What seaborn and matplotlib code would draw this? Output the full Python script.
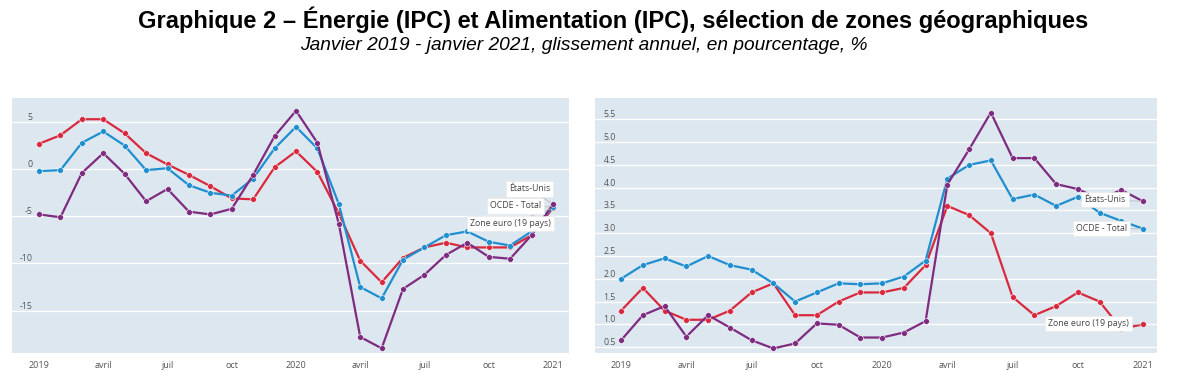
import pandas as pd
import matplotlib.pyplot as plt
import seaborn as sns

# mois 0 = janvier 2019 ... 24 = janvier 2021
months = list(range(25))
tick_pos = [0, 3, 6, 9, 12, 15, 18, 21, 24]
tick_labels = ["2019", "avril", "juil", "oct", "2020", "avril", "juil", "oct", "2021"]

series_names = ["Zone euro (19 pays)", "OCDE - Total", "États-Unis"]

# Energie (IPC)
energie_euro = [2.7, 3.6, 5.3, 5.3, 3.8, 1.7, 0.5, -0.6, -1.8, -3.1, -3.2, 0.2, 1.9,
                -0.3, -4.7, -9.7, -12.0, -9.4, -8.3, -7.8, -8.3, -8.3, -8.3, -7.0, -4.1]
energie_ocde = [-0.2, -0.1, 2.8, 4.0, 2.5, -0.1, 0.1, -1.7, -2.5, -2.8, -1.0, 2.2, 4.5,
                2.2, -3.7, -12.5, -13.7, -9.6, -8.3, -7.0, -6.6, -7.7, -8.1, -6.6, -4.0]
energie_us = [-4.8, -5.1, -0.4, 1.7, -0.5, -3.4, -2.1, -4.5, -4.8, -4.2, -0.6, 3.5, 6.2,
              2.8, -5.8, -17.8, -19.0, -12.7, -11.2, -9.1, -7.8, -9.3, -9.5, -7.0, -3.7]

# Alimentation (IPC)
alim_euro = [1.3, 1.8, 1.3, 1.1, 1.1, 1.3, 1.7, 1.9, 1.2, 1.2, 1.5, 1.7, 1.7,
             1.8, 2.3, 3.6, 3.4, 3.0, 1.6, 1.2, 1.4, 1.7, 1.5, 0.9, 1.0]
alim_ocde = [2.0, 2.3, 2.45, 2.27, 2.5, 2.3, 2.2, 1.9, 1.5, 1.7, 1.9, 1.88, 1.9,
             2.05, 2.4, 4.2, 4.5, 4.6, 3.75, 3.85, 3.6, 3.8, 3.45, 3.27, 3.1]
alim_us = [0.65, 1.2, 1.4, 0.73, 1.2, 0.93, 0.65, 0.47, 0.58, 1.02, 0.99, 0.71, 0.71,
           0.82, 1.07, 4.07, 4.84, 5.65, 4.65, 4.65, 4.08, 3.97, 3.75, 3.95, 3.7]

colors = {"Zone euro (19 pays)": "#d9293e", "OCDE - Total": "#1f8fcf", "États-Unis": "#7e2b80"}
bg = "#dde7ef"


def long_table(euro, ocde, us):
    rows = []
    for name, vals in zip(series_names, [euro, ocde, us]):
        for m, v in zip(months, vals):
            rows.append({"mois": m, "valeur": v, "zone": name})
    return pd.DataFrame(rows)


sns.set_style("white", {"axes.facecolor": bg})
plt.rcParams["font.family"] = ["Open Sans", "DejaVu Sans"]

fig = plt.figure(figsize=(11.81, 3.82), dpi=100)
ax1 = fig.add_axes([0.0102, 0.0759, 0.4716, 0.6675])
ax2 = fig.add_axes([0.5038, 0.0759, 0.4759, 0.6675])

panels = [
    (ax1, long_table(energie_euro, energie_ocde, energie_us), (-19.5, 7.55), (-1.26, 24.75),
     [5, 0, -5, -10, -15], [str(t) for t in [5, 0, -5, -10, -15]],
     {"États-Unis": (22.9, -2.1), "OCDE - Total": (22.25, -3.9), "Zone euro (19 pays)": (22.0, -5.8)}),
    (ax2, long_table(alim_euro, alim_ocde, alim_us), (0.37, 5.97), (-1.2, 24.64),
     [0.5, 1.0, 1.5, 2.0, 2.5, 3.0, 3.5, 4.0, 4.5, 5.0, 5.5],
     ["0.5", "1.0", "1.5", "2.0", "2.5", "3.0", "3.5", "4.0", "4.5", "5.0", "5.5"],
     {"États-Unis": (22.25, 3.74), "OCDE - Total": (22.07, 3.1), "Zone euro (19 pays)": (21.47, 1.01)}),
]

for ax, df, ylim, xlim, yt, ytl, notes in panels:
    sns.lineplot(data=df, x="mois", y="valeur", hue="zone", hue_order=series_names,
                 palette=colors, marker="o", markersize=4.2, markeredgecolor="white",
                 markeredgewidth=0.4, linewidth=1.6, legend=False, ax=ax)
    ax.set_ylim(*ylim)
    ax.set_xlim(*xlim)
    ax.set_yticks(yt)
    ax.set_yticklabels(ytl)
    ax.set_xticks(tick_pos)
    ax.set_xticklabels(tick_labels)
    ax.set_xlabel("")
    ax.set_ylabel("")
    ax.grid(axis="y", color="white", linewidth=1.0)
    ax.set_axisbelow(True)
    for s in ax.spines.values():
        s.set_visible(False)
    ax.tick_params(axis="y", length=0, pad=-15, labelsize=6.3, labelcolor="#555555")
    ax.tick_params(axis="x", direction="in", length=4, color="white", width=1,
                   pad=6, labelsize=6.5, labelcolor="#555555")
    for lab in ax.get_yticklabels():
        lab.set_va("bottom")
        lab.set_ha("right")
    for name in series_names:
        vals = df[df["zone"] == name]["valeur"].tolist()
        ax.annotate(name, xy=(24, vals[-1]), xytext=notes[name], fontsize=6.3,
                    color="#444444", ha="center", va="center",
                    bbox=dict(boxstyle="square,pad=0.35", fc="white", ec="#e8e8e8", lw=0.5),
                    arrowprops=dict(arrowstyle="-", color="#bbbbbb", lw=0.6, shrinkA=0, shrinkB=2))

fig.text(0.519, 0.948, "Graphique 2 – Énergie (IPC) et Alimentation (IPC), sélection de zones géographiques",
         ha="center", va="center", fontsize=17, fontweight="bold", color="black",
         family=["Liberation Sans", "DejaVu Sans"])
fig.text(0.494, 0.882, "Janvier 2019 - janvier 2021, glissement annuel, en pourcentage, %",
         ha="center", va="center", fontsize=13.8, style="italic", color="black",
         family=["Liberation Sans", "DejaVu Sans"])

fig.savefig("out.png", dpi=100)
